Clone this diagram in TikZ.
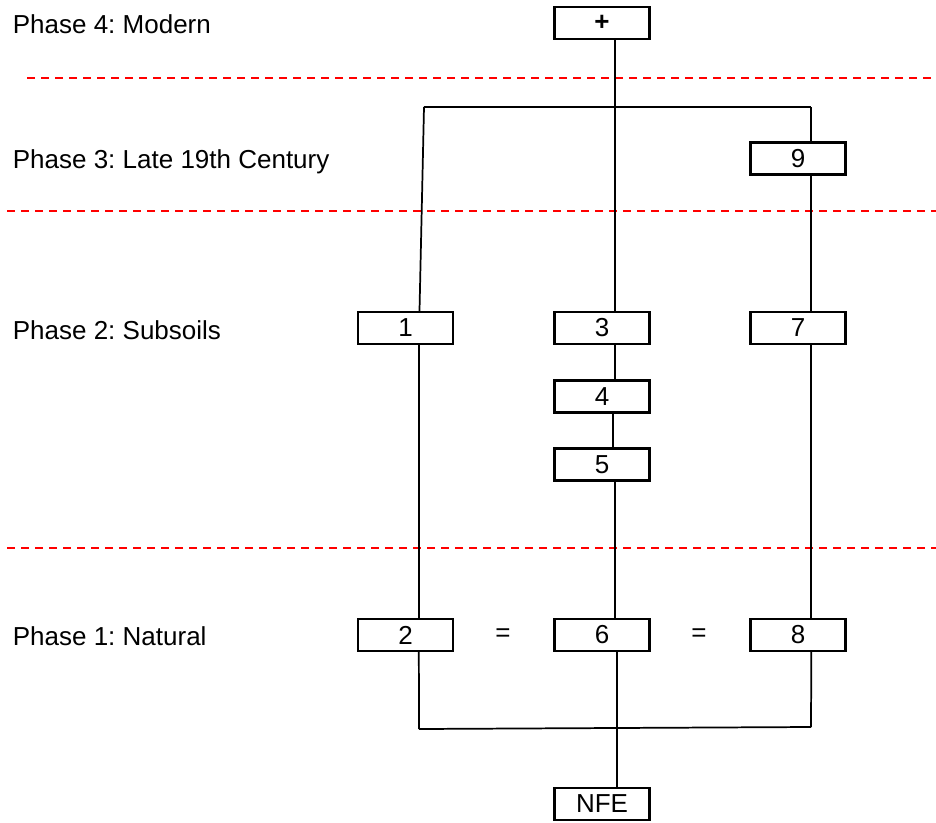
\documentclass[tikz,border=0pt]{standalone}
\usepackage{fontspec}
\setmainfont{Liberation Sans}
\usepackage{tikz}
\usetikzlibrary{calc}
\frenchspacing

\begin{document}
\begin{tikzpicture}[x=0.75pt, y=-0.75pt, line width=1.3pt,
				      font=\fontsize{19.5}{23.4}\selectfont,
				      context/.style={draw, line width=1.8pt, inner sep=0pt,
				        minimum width=71.5pt, minimum height=24pt},
				      phase/.style={anchor=base west, inner sep=0pt},
				      phaseline/.style={red, line width=1.5pt, dash pattern=on 6pt off 4.5pt}]
			      \useasboundingbox (0, 0) rectangle (936, 822);

			      % phase boundaries
			      \draw[phaseline] (27, 78) -- (936, 78);
			      \draw[phaseline] (7, 211) -- (936, 211);
			      \draw[phaseline] (7, 548) -- (936, 548);

			      \node[phase] (phasefour) at (12, 33) {Phase 4: Modern};
			      \node[phase] (phasethree) at (12, 168) {Phase 3: Late 19th Century};
			      \node[phase] (phasetwo) at (12, 339) {Phase 2: Subsoils};
			      \node[phase] (phaseone) at (12, 645) {Phase 1: Natural};

			      % contexts
			      \node[context] (plus) at (602, 23) {\textbf{+}};
			      \node[context] (nine) at (798, 158.5) {9};
			      \node[context] (one) at (405.5, 328) {1};
			      \node[context] (three) at (602, 328) {3};
			      \node[context] (seven) at (798, 328) {7};
			      \node[context] (four) at (602, 396.5) {4};
			      \node[context] (five) at (602, 464.5) {5};
			      \node[context] (two) at (405.5, 635) {2};
			      \node[context] (six) at (602, 635) {6};
			      \node[context] (eight) at (798, 635) {8};
			      \node[context] (nfe) at (602, 804) {NFE};

			      \node (eqone) at (503, 635) {=};
			      \node (eqtwo) at (699, 635) {=};

			      \coordinate (topl) at (424, 107);
			      \coordinate (topr) at (811, 107);
			      \coordinate (botl) at (419, 729);
			      \coordinate (botr) at (811, 727);

			      \draw (topl) -- (topr);
			      \draw (topl) -- ([xshift=10.5pt]one.north);
			      \draw (topr) -- ([xshift=9.75pt]nine.north);
			      \draw ([xshift=10pt]plus.south) -- ([xshift=10pt]three.north);
			      \draw ([xshift=9.75pt]nine.south) -- ([xshift=9.75pt]seven.north);
			      \draw ([xshift=10pt]one.south) -- ([xshift=10pt]two.north);
			      \draw ([xshift=9.5pt]three.south) -- ([xshift=9.5pt]four.north);
			      \draw ([xshift=8.5pt]four.south) -- ([xshift=8.5pt]five.north);
			      \draw ([xshift=9.5pt]five.south) -- ([xshift=9.5pt]six.north);
			      \draw ([xshift=10pt]seven.south) -- ([xshift=10pt]eight.north);
			      \draw ([xshift=10pt]two.south) -- (botl);
			      \draw (botl) -- (botr);
			      \draw ([xshift=10pt]eight.south) -- (botr);
			      \draw ([xshift=11.5pt]six.south) -- ([xshift=11.5pt]nfe.north);
		      \end{tikzpicture}
\end{document}
